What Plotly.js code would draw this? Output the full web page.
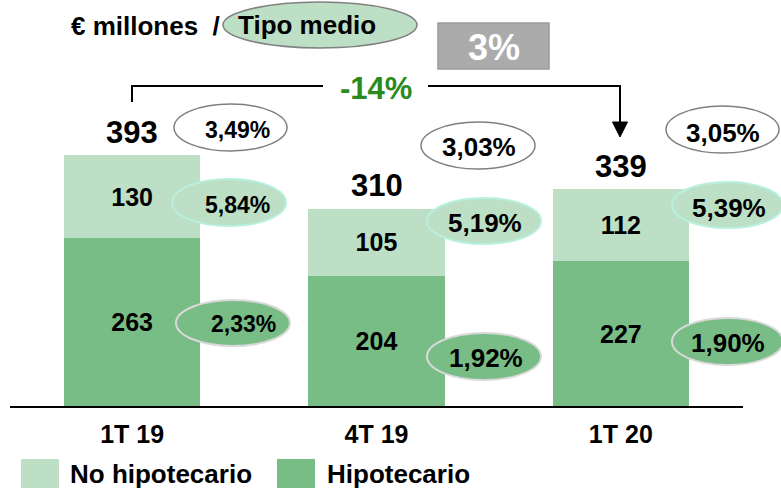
<!DOCTYPE html>
<html><head><meta charset="utf-8">
<script src="https://cdn.plot.ly/plotly-3.0.1.min.js"></script>
<style>html,body{margin:0;padding:0;background:#fff}</style>
</head><body><div id="chart" style="width:781px;height:488px"></div>
<script>
// ---- data ----
const categories = ['1T 19', '4T 19', '1T 20'];
const noHipotecario = [130, 105, 112];
const hipotecario = [263, 204, 227];
const totals = [393, 310, 339];
const tipoMedio = [3.49, 3.03, 3.05];
const tipoNoHip = [5.84, 5.19, 5.39];
const tipoHip = [2.33, 1.92, 1.90];
const variacionTexto = '-14%';
const cajaTexto = '3%';
const unidadTexto = '€ millones  /';
const tipoTexto = 'Tipo medio';
const serieNombres = ['No hipotecario', 'Hipotecario'];

// ---- style / layout (pixels) ----
const FONT = 'Liberation Sans, Arial, sans-serif';
const LIGHT = '#BCDFC5';
const DARK = '#78BD86';
const W = 781, H = 488, L = 10, R = 38, T = 100, B = 82;
const PW = W - L - R, PH = H - T - B;
const xp = px => (px - L) / PW;
const yp = py => (H - B - py) / PH;
const YMAX = 393 * PH / 251;

const avgEll = [[174, 287, 104, 151], [421, 535, 122, 169], [666, 779, 106, 153]];
const avgTxt = [[238, 129.5, 23], [479, 147, 26], [723, 132.5, 26]];
const nhEll = [[172, 286, 179, 226], [427, 541, 198, 244], [672, 783, 182, 228]];
const nhTxt = [[238, 204.5, 23], [485, 223, 26], [729, 207.5, 26]];
const hEll = [[176, 290, 300, 346], [427, 541, 333, 380], [672, 783, 318, 365]];
const hTxt = [[243, 323.5, 23], [485.5, 358, 26], [728, 342.5, 26]];

const fmt = v => v.toFixed(2).replace('.', ',') + '%';

const traces = [
  {
    type: 'bar', name: serieNombres[1], x: categories, y: hipotecario,
    marker: {color: DARK, line: {width: 0}}, width: 0.557,
    text: hipotecario.map(String), texttemplate: '<b>%{text}</b>',
    textposition: 'inside', insidetextanchor: 'middle', constraintext: 'none', textangle: 0,
    textfont: {family: FONT, size: 25, color: '#000'}, hoverinfo: 'skip'
  },
  {
    type: 'bar', name: serieNombres[0], x: categories, y: noHipotecario,
    marker: {color: LIGHT, line: {width: 0}}, width: 0.557,
    text: noHipotecario.map(String), texttemplate: '<b>%{text}</b>',
    textposition: 'inside', insidetextanchor: 'middle', constraintext: 'none', textangle: 0,
    textfont: {family: FONT, size: 25, color: '#000'}, hoverinfo: 'skip'
  }
];

const shapes = [];
const annotations = [];
function ell(b, fill, line, lw) {
  shapes.push({type: 'circle', xref: 'paper', yref: 'paper', layer: 'above',
    x0: xp(b[0]), x1: xp(b[1]), y0: yp(b[3]), y1: yp(b[2]),
    fillcolor: fill, line: {color: line, width: lw}});
}
function txt(x, y, s, size, color, anchor) {
  annotations.push({xref: 'paper', yref: 'paper', x: xp(x), y: yp(y), text: '<b>' + s + '</b>',
    showarrow: false, xanchor: anchor || 'center', yanchor: 'middle',
    font: {family: FONT, size: size, color: color || '#000'}});
}
function line(x0, y0, x1, y1) {
  shapes.push({type: 'line', xref: 'paper', yref: 'paper', layer: 'above',
    x0: xp(x0), y0: yp(y0), x1: xp(x1), y1: yp(y1), line: {color: '#000', width: 2}});
}

for (let i = 0; i < categories.length; i++) {
  ell(avgEll[i], '#FFFFFF', '#7F7F7F', 1.5);
  txt(avgTxt[i][0], avgTxt[i][1], fmt(tipoMedio[i]), avgTxt[i][2]);
  ell(nhEll[i], LIGHT, '#B8F0DE', 2);
  txt(nhTxt[i][0], nhTxt[i][1], fmt(tipoNoHip[i]), nhTxt[i][2]);
  ell(hEll[i], DARK, '#D9D9D9', 2);
  txt(hTxt[i][0], hTxt[i][1], fmt(tipoHip[i]), hTxt[i][2]);
  annotations.push({xref: 'x', yref: 'y', x: categories[i], y: totals[i], yshift: 23,
    text: '<b>' + totals[i] + '</b>', showarrow: false, xanchor: 'center', yanchor: 'middle',
    font: {family: FONT, size: 31, color: '#000'}});
}

// header
ell([223, 417, 2, 48], LIGHT, '#808080', 1.5);
txt(69, 26, unidadTexto, 26, '#000', 'left');
txt(307, 25, tipoTexto, 26);
shapes.push({type: 'rect', xref: 'paper', yref: 'paper', layer: 'above',
  x0: xp(438), x1: xp(549), y0: yp(69), y1: yp(23), fillcolor: '#ABABAB', line: {color: '#9A9A9A', width: 1.5}});
txt(494, 48, cajaTexto, 36, '#FFFFFF');

// bracket
line(132, 102, 132, 86);
line(131, 86, 323, 86);
line(428, 86, 621, 86);
line(620, 85, 620, 123);
shapes.push({type: 'path', xref: 'paper', yref: 'paper', layer: 'above',
  path: `M ${xp(612.5)} ${yp(122)} L ${xp(627.5)} ${yp(122)} L ${xp(620)} ${yp(137)} Z`,
  fillcolor: '#000', line: {color: '#000', width: 1}});
txt(376, 88.5, variacionTexto, 31, '#2A8A1E');

// legend
shapes.push({type: 'rect', xref: 'paper', yref: 'paper', x0: xp(21), x1: xp(59), y0: yp(490), y1: yp(459),
  fillcolor: LIGHT, line: {width: 0}});
shapes.push({type: 'rect', xref: 'paper', yref: 'paper', x0: xp(277), x1: xp(315), y0: yp(490), y1: yp(459),
  fillcolor: DARK, line: {width: 0}});
txt(68, 474, serieNombres[0], 26, '#000', 'left');
txt(325, 474, serieNombres[1], 26, '#000', 'left');

const layout = {
  width: W, height: H, margin: {l: L, r: R, t: T, b: B, pad: 0},
  paper_bgcolor: '#fff', plot_bgcolor: '#fff', barmode: 'stack', showlegend: false,
  xaxis: {type: 'category', range: [-0.5, 2.5], showline: true, linecolor: '#000', linewidth: 1.5,
    showgrid: false, zeroline: false, ticks: '', ticklabelstandoff: 5,
    tickfont: {family: FONT, size: 25, color: '#000', weight: 'bold'}, fixedrange: true},
  yaxis: {range: [0, YMAX], visible: false, showgrid: false, zeroline: false, fixedrange: true},
  shapes: shapes, annotations: annotations, hovermode: false
};

Plotly.newPlot('chart', traces, layout, {displayModeBar: false, staticPlot: true});
</script></body></html>
